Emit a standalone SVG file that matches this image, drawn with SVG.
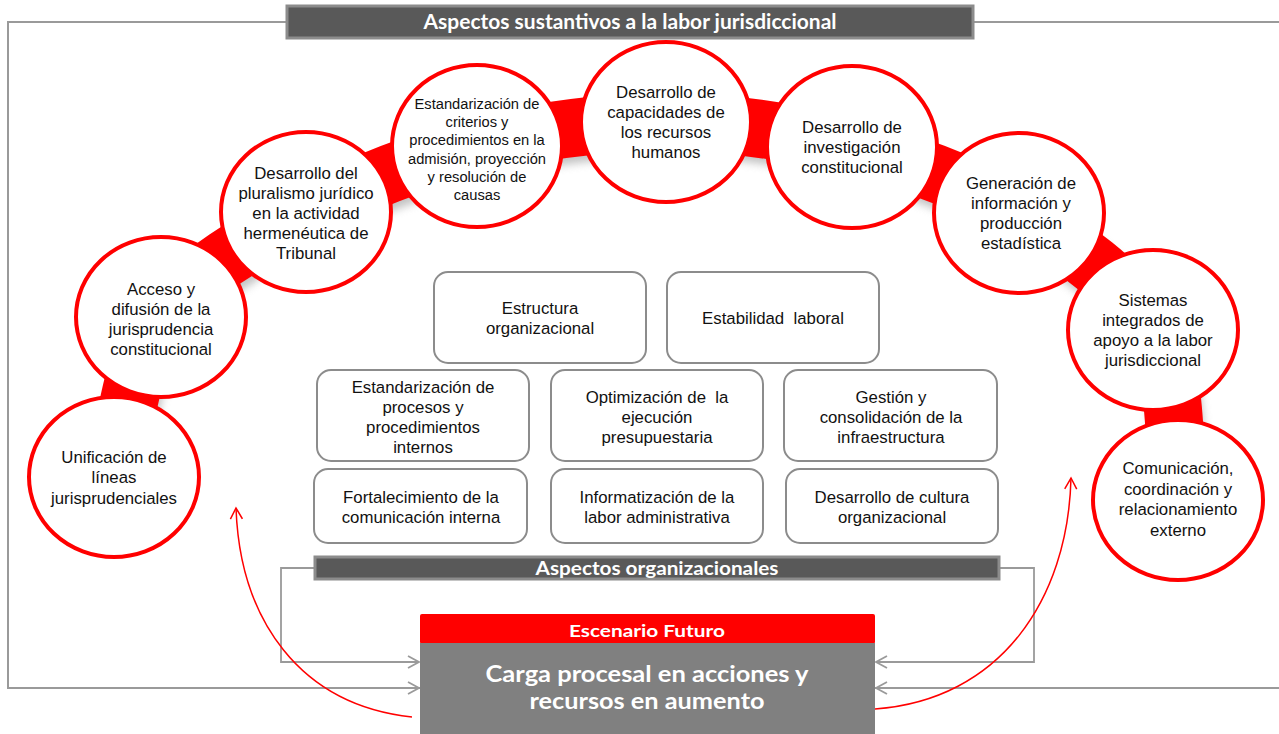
<svg xmlns="http://www.w3.org/2000/svg" width="1279" height="734" viewBox="0 0 1279 734">
<style>
.frame{fill:none;stroke:#9a9a9a;stroke-width:2}
.conn{fill:none;stroke:#9a9a9a;stroke-width:1.8}
.red{fill:none;stroke:#ff0000;stroke-width:1.5}
.circ{fill:#ffffff;stroke:#ff0000;stroke-width:4}
.box{fill:#ffffff;stroke:#8c8c8c;stroke-width:2}
.bar{fill:#595959;stroke:#8c8c8c;stroke-width:3}
.t{font-family:'Liberation Sans',Arial,sans-serif;font-size:16.8px;fill:#111;text-anchor:middle}
.ts{font-family:'Liberation Sans',Arial,sans-serif;font-size:14.7px;fill:#111;text-anchor:middle}
.hb{font-family:Lato,'Open Sans',sans-serif;font-weight:bold;fill:#ffffff;text-anchor:middle}
</style>
<defs>
<marker id="ag" markerWidth="14" markerHeight="14" refX="12" refY="7" orient="auto" markerUnits="userSpaceOnUse">
<path d="M1,1 L12,7 L1,13" fill="none" stroke="#9a9a9a" stroke-width="1.8"/>
</marker>
<marker id="ar" markerWidth="14" markerHeight="14" refX="12" refY="7" orient="auto" markerUnits="userSpaceOnUse">
<path d="M1,1 L12,7 L1,13" fill="none" stroke="#ff0000" stroke-width="1.5"/>
</marker>
<filter id="blur" x="-10%" y="-10%" width="120%" height="120%">
<feGaussianBlur stdDeviation="4"/>
</filter>
</defs>

<g id="frame">
<path class="frame" d="M286,22 H8 V688 H420"/>
<path class="frame" d="M974,22 H1279"/>
<path class="frame" d="M1279,688 H875"/>
</g>

<g id="band">
<path d="M114,477 C122,450 129,361 161,317 C193,273 253,240 306,212 C359,184 417,161 477,146 C537,131 604,122 666,122 C728,122 793,132 852,147 C911,162 968,183 1018,213 C1068,244 1126,282 1153,330 C1180,378 1174,472 1178,500" fill="none" stroke="#9a9a9a" stroke-width="54" opacity="0.6" transform="translate(3,8)" filter="url(#blur)"/>
<path d="M114,477 C122,450 129,361 161,317 C193,273 253,240 306,212 C359,184 417,161 477,146 C537,131 604,122 666,122 C728,122 793,132 852,147 C911,162 968,183 1018,213 C1068,244 1126,282 1153,330 C1180,378 1174,472 1178,500" fill="none" stroke="#ff0000" stroke-width="58"/>
</g>

<g id="connectors">
<path class="conn" d="M314,568 H281 V662 H419" marker-end="url(#ag)"/>
<path class="conn" d="M8,688 H419" marker-end="url(#ag)"/>
<path class="conn" d="M1000,568 H1034 V662 H876" marker-end="url(#ag)"/>
<path class="conn" d="M1279,688 H876" marker-end="url(#ag)"/>
<path class="red" d="M412,717 C300,705 240,620 236,508" marker-end="url(#ar)"/>
<path class="red" d="M875,709 C1000,700 1068,600 1071,478" marker-end="url(#ar)"/>
</g>

<g id="title-sustantivos">
<rect class="bar" x="287" y="6" width="686" height="32"/>
<text class="hb" x="630" y="29" font-size="20" textLength="413" lengthAdjust="spacingAndGlyphs">Aspectos sustantivos a la labor jurisdiccional</text>
</g>

<g id="c1">
<ellipse class="circ" cx="114" cy="477" rx="85" ry="80"/>
<text class="t" x="114" y="463">Unificación de</text>
<text class="t" x="114" y="483">líneas</text>
<text class="t" x="114" y="504">jurisprudenciales</text>
</g>
<g id="c2">
<ellipse class="circ" cx="161" cy="317" rx="85" ry="80"/>
<text class="t" x="161" y="295">Acceso y</text>
<text class="t" x="161" y="315">difusión de la</text>
<text class="t" x="161" y="335">jurisprudencia</text>
<text class="t" x="161" y="355">constitucional</text>
</g>
<g id="c3">
<ellipse class="circ" cx="306" cy="212" rx="85" ry="80"/>
<text class="t" x="306" y="179">Desarrollo del</text>
<text class="t" x="306" y="199">pluralismo jurídico</text>
<text class="t" x="306" y="219">en la actividad</text>
<text class="t" x="306" y="239">hermenéutica de</text>
<text class="t" x="306" y="259">Tribunal</text>
</g>
<g id="c4">
<ellipse class="circ" cx="477" cy="146" rx="85" ry="81"/>
<text class="ts" x="477" y="109">Estandarización de</text>
<text class="ts" x="477" y="127">criterios y</text>
<text class="ts" x="477" y="145">procedimientos en la</text>
<text class="ts" x="477" y="164">admisión, proyección</text>
<text class="ts" x="477" y="182">y resolución de</text>
<text class="ts" x="477" y="200">causas</text>
</g>
<g id="c5">
<ellipse class="circ" cx="666" cy="122" rx="85" ry="80"/>
<text class="t" x="666" y="98">Desarrollo de</text>
<text class="t" x="666" y="118">capacidades de</text>
<text class="t" x="666" y="138">los recursos</text>
<text class="t" x="666" y="158">humanos</text>
</g>
<g id="c6">
<ellipse class="circ" cx="852" cy="147" rx="85" ry="81"/>
<text class="t" x="852" y="133">Desarrollo de</text>
<text class="t" x="852" y="153">investigación</text>
<text class="t" x="852" y="173">constitucional</text>
</g>
<g id="c7">
<ellipse class="circ" cx="1019" cy="213" rx="85" ry="80"/>
<text class="t" x="1021" y="189">Generación de</text>
<text class="t" x="1021" y="209">información y</text>
<text class="t" x="1021" y="229">producción</text>
<text class="t" x="1021" y="249">estadística</text>
</g>
<g id="c8">
<ellipse class="circ" cx="1153" cy="330" rx="85" ry="80"/>
<text class="t" x="1153" y="306">Sistemas</text>
<text class="t" x="1153" y="326">integrados de</text>
<text class="t" x="1153" y="346">apoyo a la labor</text>
<text class="t" x="1153" y="366">jurisdiccional</text>
</g>
<g id="c9">
<ellipse class="circ" cx="1178" cy="500" rx="85" ry="80"/>
<text class="t" x="1178" y="474">Comunicación,</text>
<text class="t" x="1178" y="495">coordinación y</text>
<text class="t" x="1178" y="515">relacionamiento</text>
<text class="t" x="1178" y="536">externo</text>
</g>

<g id="b1">
<rect class="box" x="434" y="272" width="212" height="91" rx="14"/>
<text class="t" x="540" y="314">Estructura</text>
<text class="t" x="540" y="334">organizacional</text>
</g>
<g id="b2">
<rect class="box" x="667" y="272" width="212" height="91" rx="14"/>
<text class="t" x="773" y="324" xml:space="preserve">Estabilidad  laboral</text>
</g>
<g id="b3">
<rect class="box" x="317" y="370" width="212" height="91" rx="14"/>
<text class="t" x="423" y="393">Estandarización de</text>
<text class="t" x="423" y="413">procesos y</text>
<text class="t" x="423" y="433">procedimientos</text>
<text class="t" x="423" y="453">internos</text>
</g>
<g id="b4">
<rect class="box" x="551" y="370" width="212" height="91" rx="14"/>
<text class="t" x="657" y="403" xml:space="preserve">Optimización de  la</text>
<text class="t" x="657" y="423">ejecución</text>
<text class="t" x="657" y="443">presupuestaria</text>
</g>
<g id="b5">
<rect class="box" x="784" y="370" width="213" height="91" rx="14"/>
<text class="t" x="891" y="403">Gestión y</text>
<text class="t" x="891" y="423">consolidación de la</text>
<text class="t" x="891" y="443">infraestructura</text>
</g>
<g id="b6">
<rect class="box" x="314" y="469" width="213" height="74" rx="14"/>
<text class="t" x="421" y="503">Fortalecimiento de la</text>
<text class="t" x="421" y="523">comunicación interna</text>
</g>
<g id="b7">
<rect class="box" x="551" y="469" width="212" height="74" rx="14"/>
<text class="t" x="657" y="503">Informatización de la</text>
<text class="t" x="657" y="523">labor administrativa</text>
</g>
<g id="b8">
<rect class="box" x="786" y="469" width="212" height="74" rx="14"/>
<text class="t" x="892" y="503">Desarrollo de cultura</text>
<text class="t" x="892" y="523">organizacional</text>
</g>

<g id="title-organizacionales">
<rect class="bar" x="315" y="557" width="684" height="22"/>
<text class="hb" x="657" y="575" font-size="18" textLength="243" lengthAdjust="spacingAndGlyphs">Aspectos organizacionales</text>
</g>

<g id="escenario">
<rect x="420" y="614" width="455" height="30" rx="2" fill="#ff0000"/>
<rect x="420" y="643" width="455" height="91" fill="#808080"/>
<text class="hb" x="647" y="637" font-size="17" textLength="156" lengthAdjust="spacingAndGlyphs">Escenario Futuro</text>
<text class="hb" x="647" y="682" font-size="23" textLength="323" lengthAdjust="spacingAndGlyphs">Carga procesal en acciones y</text>
<text class="hb" x="647" y="709" font-size="23" textLength="235" lengthAdjust="spacingAndGlyphs">recursos en aumento</text>
</g>
</svg>
